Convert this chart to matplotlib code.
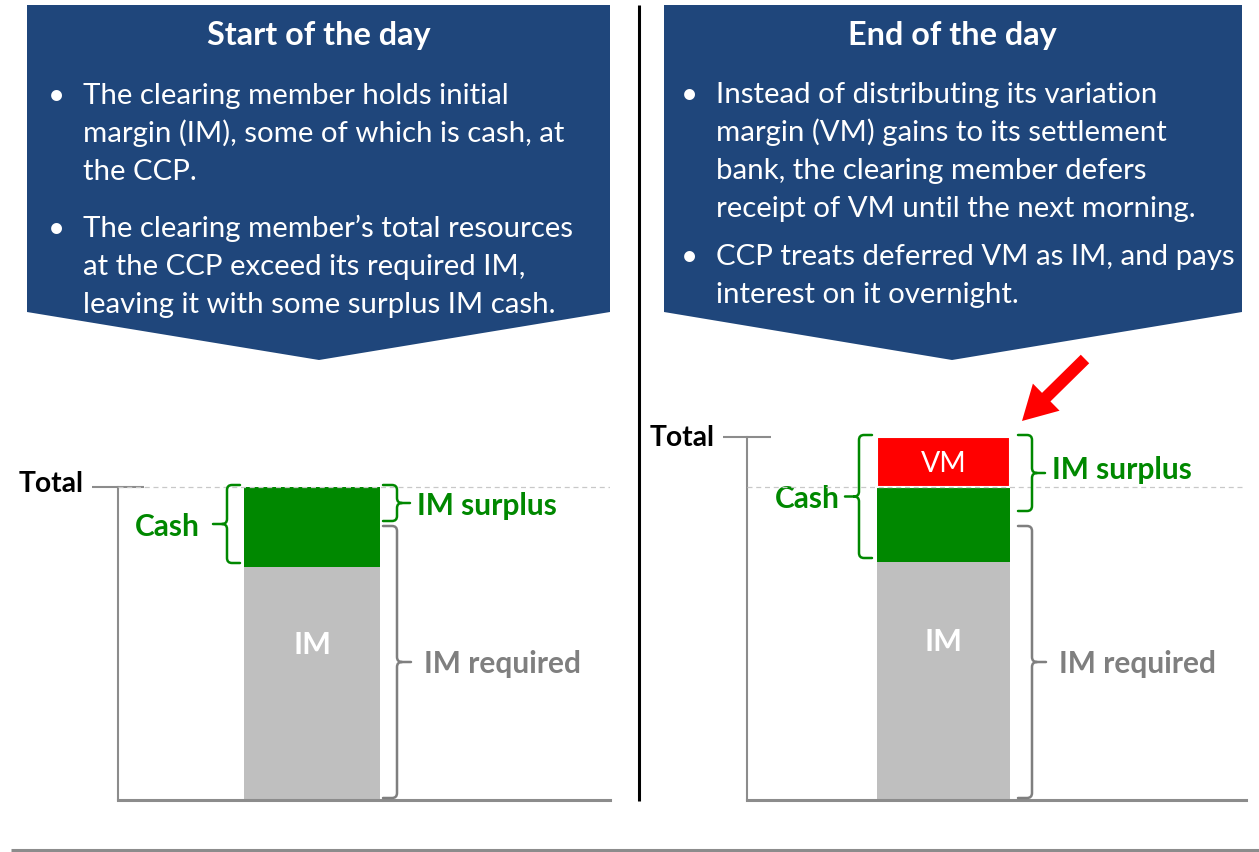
import matplotlib
matplotlib.use("Agg")
import matplotlib.pyplot as plt
from matplotlib.path import Path
from matplotlib.patches import PathPatch, Polygon, FancyArrow
from matplotlib.textpath import TextPath
from matplotlib.font_manager import FontProperties
from matplotlib.transforms import ScaledTranslation

# ---------------- data ----------------
panel_titles = ["Start of the day", "End of the day"]
panel_bullets = [
    [["The clearing member holds initial",
      "margin (IM), some of which is cash, at",
      "the CCP."],
     ["The clearing member\u2019s total resources",
      "at the CCP exceed its required IM,",
      "leaving it with some surplus IM cash."]],
    [["Instead of distributing its variation",
      "margin (VM) gains to its settlement",
      "bank, the clearing member defers",
      "receipt of VM until the next morning."],
     ["CCP treats deferred VM as IM, and pays",
      "interest on it overnight."]],
]
segment_labels = ["IM", "Cash", "VM"]
bracket_labels = ["IM surplus", "IM required"]
axis_label = "Total"
im_noncash = [233, 238]     # grey part of IM
im_cash = [80, 75]          # green cash part
deferred_vm = [0, 50]       # red deferred VM
im_required = [276, 276]

# ---------------- style / layout ----------------
W, H, DPI = 1259, 852, 100
FAMILY = ["Lato", "DejaVu Sans"]
BLUE = "#1F467B"
GREEN = "#008800"
RED = "#FF0000"
BAR_GREY = "#BFBFBF"
TXT_GREY = "#7F7F7F"
AX_GREY = "#8C8C8C"

plt.rcParams["font.family"] = FAMILY


def fit_size(s, target_px, weight="normal"):
    fp = FontProperties(family=FAMILY, weight=weight)
    w = TextPath((0, 0), s, size=100, prop=fp).get_extents().width
    return target_px * 72.0 / DPI * 100.0 / w


body_fs = fit_size("The clearing member holds initial", 422)
title_fs = fit_size("Start of the day", 223, "bold")
label_fs = fit_size("IM required", 153, "bold")
total_fs = fit_size("Total", 63, "bold")
im_fs = fit_size("IM", 33, "bold")
vm_fs = fit_size("VM", 43)

fig = plt.figure(figsize=(W / DPI, H / DPI), dpi=DPI)
bg = fig.add_axes([0, 0, 1, 1])
bg.set_xlim(0, W)
bg.set_ylim(H, 0)
bg.axis("off")

# banners
banner_x = [(27, 610, 319), (664, 1242, 952)]
bullet_x = [48, 681]
text_x = [83, 716]
first_base = [104, 103]
line_gap = 38
para_gap = [19, 10]
for i, (x0, x1, tip) in enumerate(banner_x):
    bg.add_patch(Polygon([(x0, 5), (x1, 5), (x1, 312), (tip, 360), (x0, 312)],
                         closed=True, fc=BLUE, ec="none"))
    bg.text(tip, 45, panel_titles[i], color="white", fontsize=title_fs,
            fontweight="bold", ha="center", va="baseline")
    y = first_base[i]
    for para in panel_bullets[i]:
        bg.text(bullet_x[i], y, "\u2022", color="white", fontsize=body_fs,
                ha="left", va="baseline")
        for line in para:
            bg.text(text_x[i], y, line, color="white", fontsize=body_fs,
                    ha="left", va="baseline")
            y += line_gap
        y += para_gap[i]

# separators
bg.plot([639, 639], [5, 801], color="black", lw=2.2, solid_capstyle="butt")
bg.plot([11, W], [850, 850], color=AX_GREY, lw=2.2, solid_capstyle="butt")

# red arrow
bg.add_patch(FancyArrow(1085, 359, 1022 - 1085, 421 - 359, width=12,
                        head_width=38, head_length=34,
                        length_includes_head=True, color=RED, lw=0))


def brace(ax, x_end, x_sp, y0, y1, tip_len, color, r=5, lw=1.8):
    d = 1 if x_sp > x_end else -1
    ym = (y0 + y1) / 2.0
    xt = x_sp + d * tip_len
    verts = [(x_end, y1), (x_sp - d * r, y1), (x_sp, y1), (x_sp, y1 - r),
             (x_sp, ym + r), (x_sp, ym), (x_sp + d * r, ym), (xt, ym),
             (x_sp + d * r, ym), (x_sp, ym), (x_sp, ym - r),
             (x_sp, y0 + r), (x_sp, y0), (x_sp - d * r, y0), (x_end, y0)]
    codes = [Path.MOVETO, Path.LINETO, Path.CURVE3, Path.CURVE3,
             Path.LINETO, Path.CURVE3, Path.CURVE3, Path.LINETO,
             Path.MOVETO, Path.CURVE3, Path.CURVE3,
             Path.LINETO, Path.CURVE3, Path.CURVE3, Path.LINETO]
    ax.add_patch(PathPatch(Path(verts, codes), fc="none", ec=color, lw=lw,
                           capstyle="round", joinstyle="round", clip_on=False,
                           zorder=6))
    return xt, ym


# charts
chart_x = [(118, 610), (747, 1246)]
base_y, top_y = 800, 360
bar_cx = [194, 196.5]
bar_w = [136, 133]
tick_len = [38, 35]
gap_l = [4, 5]
gap_r = [3, 8]
cash_gap = [13, 5]
surplus_gap = [3, 13]
surplus_dy = [-1, 5]
total_dy = [5, 2]
for i, (x0, x1) in enumerate(chart_x):
    ax = fig.add_axes([x0 / W, (H - base_y) / H, (x1 - x0) / W,
                       (base_y - top_y) / H])
    ax.set_xlim(0, x1 - x0)
    ax.set_ylim(0, base_y - top_y)
    ax.patch.set_alpha(0)
    g, c, v, req = im_noncash[i], im_cash[i], deferred_vm[i], im_required[i]
    total = g + c + v
    cx, bw = bar_cx[i], bar_w[i]
    ax.bar(cx, g, width=bw, color=BAR_GREY, zorder=2)
    ax.bar(cx, c, bottom=g, width=bw, color=GREEN, zorder=2)
    if v > 0:
        ax.bar(cx, v, bottom=g + c, width=bw, color=RED, edgecolor="white",
               lw=1.5, zorder=2)
        ax.text(cx, g + c + v / 2, segment_labels[2], color="white",
                fontsize=vm_fs, ha="center", va="center_baseline", zorder=7)
    ax.text(cx, g * 0.675, segment_labels[0], color="white", fontsize=im_fs,
            fontweight="bold", ha="center", va="center_baseline", zorder=7)
    ax.axhline(g + c, color="#C8C8C8", lw=0.9, ls=(0, (4, 3)), zorder=5)

    # axes
    for s in ("top", "right"):
        ax.spines[s].set_visible(False)
    ax.spines["left"].set_bounds(0, total)
    ax.spines["left"].set_color(AX_GREY)
    ax.spines["left"].set_linewidth(1.5)
    ax.spines["bottom"].set_color(AX_GREY)
    ax.spines["bottom"].set_linewidth(2.2)
    ax.set_xticks([])
    ax.set_yticks([total])
    ax.set_yticklabels([axis_label])
    ax.tick_params(axis="y", direction="inout", length=tick_len[i], width=1.5,
                   color=AX_GREY, pad=5.5, labelsize=total_fs,
                   labelcolor="black")
    for lbl in ax.get_yticklabels():
        lbl.set_fontweight("bold")
        lbl.set_transform(lbl.get_transform() +
                          ScaledTranslation(0, total_dy[i] / DPI,
                                            fig.dpi_scale_trans))

    left_e = cx - bw / 2 - gap_l[i]
    right_e = cx + bw / 2 + gap_r[i]
    # cash brace (left)
    xt, ym = brace(ax, left_e, left_e - 13, g + 4, total + 2, 14, GREEN)
    ax.text(xt - cash_gap[i], ym, segment_labels[1], color=GREEN,
            fontsize=label_fs, fontweight="bold", ha="right",
            va="center_baseline")
    # IM surplus brace (right)
    xt, ym = brace(ax, right_e, right_e + 14, req + surplus_gap[i], total + 2,
                   13, GREEN)
    ax.text(xt + 7, ym + surplus_dy[i], bracket_labels[0], color=GREEN,
            fontsize=label_fs, fontweight="bold", ha="left",
            va="center_baseline")
    # IM required brace (right)
    xt, ym = brace(ax, right_e, right_e + 14, 2, req - 2, 14, TXT_GREY)
    ax.text(xt + 13, ym, bracket_labels[1], color=TXT_GREY, fontsize=label_fs,
            fontweight="bold", ha="left", va="center_baseline")

fig.savefig("out.png", dpi=DPI, facecolor="white")
